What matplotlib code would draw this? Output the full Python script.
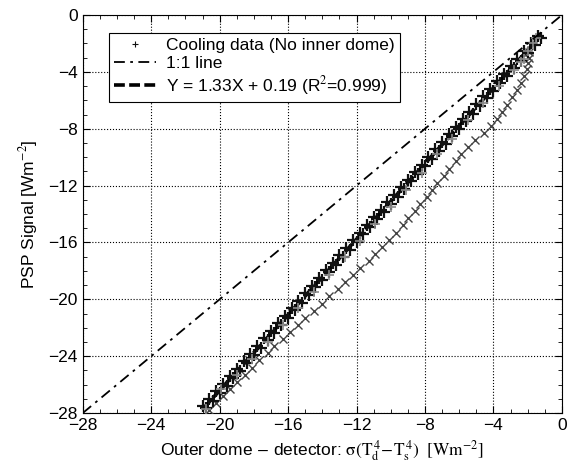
import numpy as np
import matplotlib
matplotlib.use("Agg")
import matplotlib.pyplot as plt
from matplotlib.ticker import MultipleLocator

plt.rcParams['font.family'] = ['Liberation Sans', 'DejaVu Sans']
plt.rcParams['mathtext.fontset'] = 'stix'

# upper (dense) branch of cooling data
upper_x = [-21.0, -20.8, -20.6, -20.4, -20.2, -20.0, -19.8, -19.6, -19.4, -19.2,
           -19.0, -18.8, -18.6, -18.4, -18.2, -18.0, -17.8, -17.6, -17.4, -17.2,
           -17.0, -16.8, -16.6, -16.4, -16.2, -16.0, -15.8, -15.6, -15.4, -15.2,
           -15.0, -14.8, -14.6, -14.4, -14.2, -14.0, -13.8, -13.6, -13.4, -13.2,
           -13.0, -12.8, -12.6, -12.4, -12.2, -12.0, -11.8, -11.6, -11.4, -11.2,
           -11.0, -10.8, -10.6, -10.4, -10.2, -10.0, -9.8, -9.6, -9.4, -9.2,
           -9.0, -8.8, -8.6, -8.4, -8.2, -8.0, -7.8, -7.6, -7.4, -7.2,
           -7.0, -6.8, -6.6, -6.4, -6.2, -6.0, -5.8, -5.6, -5.4, -5.2,
           -5.0, -4.8, -4.6, -4.4, -4.2, -4.0, -3.8, -3.6, -3.4, -3.2,
           -3.0, -2.8, -2.6, -2.4, -2.2, -2.0, -1.8, -1.6, -1.4, -1.2]
upper_y = [-27.54, -27.67, -27.01, -27.14, -26.48, -26.61, -25.94, -26.08, -25.41, -25.55,
           -24.88, -25.01, -24.35, -24.48, -23.82, -23.95, -23.28, -23.42, -22.75, -22.89,
           -22.22, -22.35, -21.69, -21.82, -21.16, -21.29, -20.62, -20.76, -20.09, -20.23,
           -19.56, -19.69, -19.03, -19.16, -18.50, -18.63, -17.96, -18.10, -17.43, -17.57,
           -16.90, -17.03, -16.37, -16.50, -15.84, -15.97, -15.30, -15.44, -14.77, -14.91,
           -14.24, -14.37, -13.71, -13.84, -13.18, -13.31, -12.64, -12.78, -12.11, -12.25,
           -11.58, -11.71, -11.05, -11.18, -10.52, -10.65, -9.98, -10.12, -9.45, -9.59,
           -8.92, -9.05, -8.39, -8.52, -7.86, -7.99, -7.32, -7.46, -6.79, -6.93,
           -6.26, -6.39, -5.73, -5.86, -5.20, -5.33, -4.66, -4.80, -4.13, -4.27,
           -3.60, -3.73, -3.07, -3.20, -2.54, -2.67, -2.00, -2.14, -1.47, -1.61]
# lighter points scattered through the band
upper_x2 = [-20.8, -19.9, -19.0, -18.1, -17.2, -16.3, -15.4, -14.5, -13.6, -12.7,
            -11.8, -10.9, -10.0, -9.1, -8.2, -7.3, -6.4, -5.5, -4.6, -3.7,
            -2.8, -2.4, -2.0, -1.7, -1.5, -2.2]
upper_y2 = [-27.7, -26.3, -25.3, -24.2, -23.0, -21.8, -20.6, -19.5, -18.3, -17.0,
            -15.9, -14.7, -13.5, -12.3, -11.1, -9.8, -8.7, -7.4, -6.2, -5.0,
            -3.9, -3.3, -2.5, -2.0, -1.6, -3.1]

# lower (sparse) branch
lower_y = [-27.8, -27.3, -26.8, -26.3, -25.8, -25.3, -24.8, -24.3, -23.8, -23.3,
           -22.8, -22.3, -21.8, -21.3, -20.8, -20.3, -19.8, -19.3, -18.8, -18.3,
           -17.8, -17.3, -16.8, -16.3, -15.8, -15.3, -14.8, -14.3, -13.8, -13.3,
           -12.8, -12.3, -11.8, -11.3, -10.8, -10.3, -9.8, -9.3, -8.8, -8.3,
           -7.8, -7.3, -6.8, -6.3, -5.8, -5.3, -4.8, -4.3, -3.8, -3.4,
           -3.0, -2.6]
lower_x = [-20.6, -20.2, -19.8, -19.4, -19.0, -18.5, -18.1, -17.7, -17.2, -16.8,
           -16.3, -15.9, -15.4, -15.0, -14.5, -14.0, -13.6, -13.1, -12.7, -12.2,
           -11.8, -11.3, -10.9, -10.5, -10.1, -9.7, -9.3, -9.0, -8.6, -8.3,
           -7.9, -7.6, -7.3, -6.9, -6.6, -6.2, -5.9, -5.5, -5.1, -4.55,
           -4.15, -3.8, -3.5, -3.2, -2.9, -2.65, -2.4, -2.2, -2.05, -2.0,
           -1.95, -1.95]

slope = 1.33
intercept = 0.19
fit_range = [-21.0, -1.2]
one_to_one = [-28, 0]

fig = plt.figure(figsize=(5.67, 4.62), dpi=100)
ax = fig.add_axes([0.146, 0.106, 0.845, 0.8615])

fx = np.array(fit_range)
ax.plot(fx, slope * fx + intercept, color='black', lw=2.6, ls=(0, (3, 1.2)),
        label='Y = 1.33X + 0.19 (R$^2$=0.999)', zorder=2)
ax.plot(lower_x, lower_y, 'x', color='#444444', ms=5.5, mew=1.0, zorder=3)
ax.plot(upper_x, upper_y, '+', color='#111111', ms=9, mew=1.6, zorder=3,
        label='Cooling data (No inner dome)')
ax.plot(upper_x2, upper_y2, '+', color='#8a8a8a', ms=7, mew=1.2, zorder=4)
ax.plot(one_to_one, one_to_one, color='black', lw=1.3, ls=(0, (6, 3, 1.5, 3)),
        label='1:1 line', zorder=5)

ax.set_xlim(-28, 0)
ax.set_ylim(-28, 0)
ax.xaxis.set_major_locator(MultipleLocator(4))
ax.yaxis.set_major_locator(MultipleLocator(4))
ax.xaxis.set_minor_locator(MultipleLocator(1))
ax.yaxis.set_minor_locator(MultipleLocator(1))
ax.tick_params(which='both', direction='in', top=True, right=True, labelsize=12.5)
ax.tick_params(which='major', length=5)
ax.tick_params(which='minor', length=3)
ax.grid(True, which='major', ls=':', color='black', lw=0.8)

ax.set_xlabel(r'Outer dome $-$ detector: $\mathrm{\sigma(T_d^{\,4}\!-\!T_s^{\,4})\ \ [Wm^{-2}]}$',
              fontsize=12.5)
ax.set_ylabel(r'PSP Signal [Wm$^{-2}$]', fontsize=12.5, labelpad=6)

handles, labels = ax.get_legend_handles_labels()
order = [1, 2, 0]
leg = ax.legend([handles[i] for i in order], [labels[i] for i in order],
                loc='upper left', bbox_to_anchor=(0.055, 0.955), fontsize=12.5,
                fancybox=False, framealpha=1, edgecolor='black', borderaxespad=0,
                handlelength=2.4, handletextpad=0.6, borderpad=0.3,
                labelspacing=0.15, numpoints=1)
leg.set_zorder(10)
leg.get_frame().set_linewidth(0.8)
leg.legend_handles[0].set_markersize(5)
leg.legend_handles[0].set_markeredgewidth(0.8)

fig.savefig('out.png', dpi=100)
